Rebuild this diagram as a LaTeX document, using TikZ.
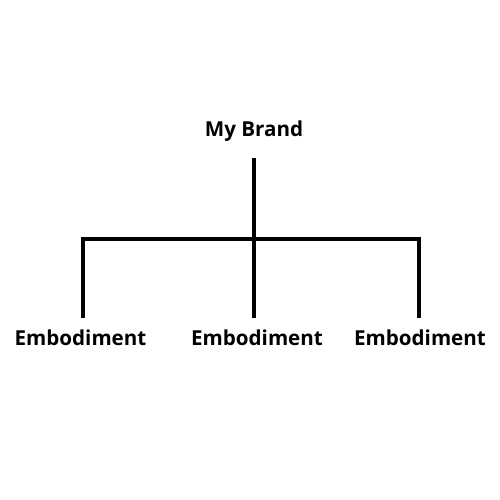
\documentclass[tikz,border=0pt]{standalone}
\usepackage{fontspec}
\setmainfont{Open Sans}
\usepackage{tikz}
\usetikzlibrary{positioning}
\tikzstyle{brandtext} = [inner sep=0pt, anchor=base, font=\fontsize{20.6}{24}\selectfont\bfseries]
\tikzstyle{link}      = [draw, black, line width=4pt]

\begin{document}
\begin{tikzpicture}[x=1pt, y=-1pt]
        \useasboundingbox (0,0) rectangle (500,500);
        \node[brandtext] (brand) at (254,136.3) {My Brand};
        \node[brandtext] (emb1) at (80.5,345) {Embodiment};
        \node[brandtext] (emb2) at (257,345) {Embodiment};
        \node[brandtext] (emb3) at (420,345) {Embodiment};
        \coordinate (hubL) at (82.5,239);
        \coordinate (hub) at (254,239);
        \coordinate (hubR) at (419.3,239);

        \draw[link, shorten <=17pt] (brand) -- (hub);
        \draw[link, line cap=rect] (hubL) -- (hubR);
        \draw[link, shorten >=11pt] (hubL) -- (hubL |- emb1.north);
        \draw[link, shorten >=11pt] (hub) -- (hub |- emb2.north);
        \draw[link, shorten >=11pt] (hubR) -- (hubR |- emb3.north);
\end{tikzpicture}
\end{document}
